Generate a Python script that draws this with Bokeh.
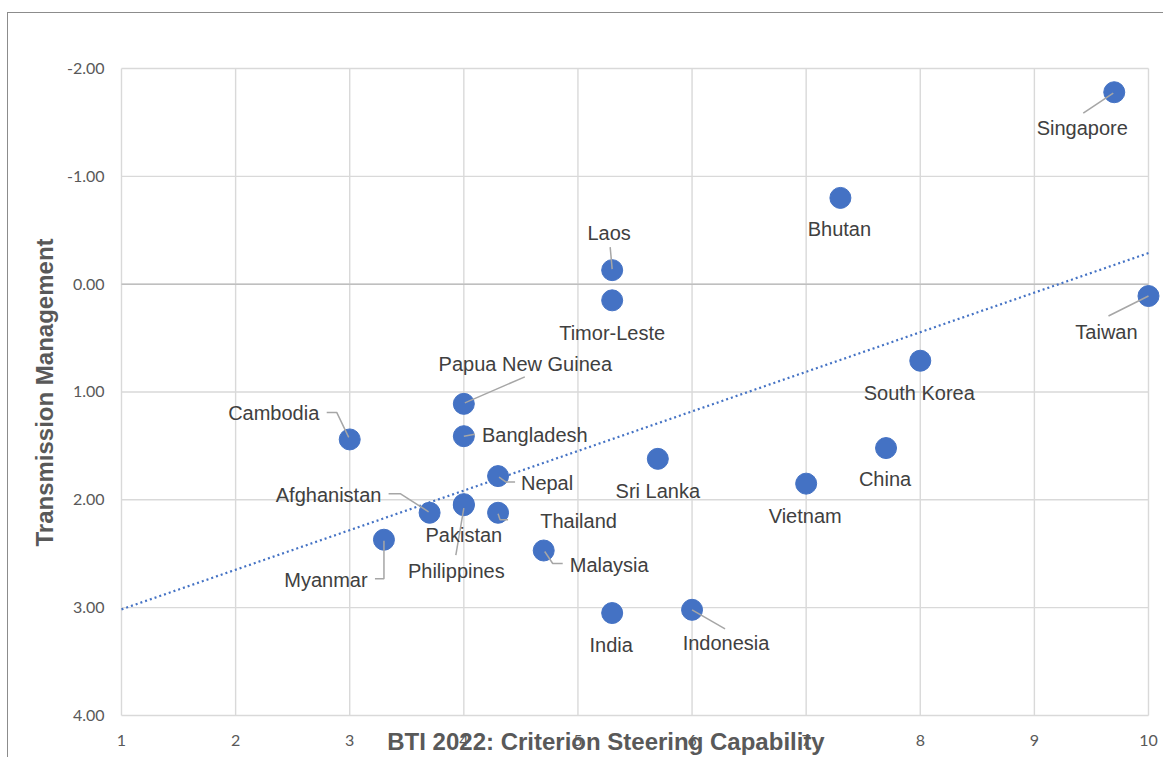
import numpy as np
from bokeh.plotting import figure
from bokeh.models import Range1d, FixedTicker, NumeralTickFormatter, Label
from bokeh.core.properties import value
from bokeh.embed import file_html
from bokeh.resources import INLINE

# ---------------- data ----------------
countries = ["Singapore", "Bhutan", "Laos", "Timor-Leste", "Taiwan", "South Korea",
             "China", "Vietnam", "Sri Lanka", "Papua New Guinea", "Cambodia",
             "Bangladesh", "Nepal", "Afghanistan", "Philippines", "Pakistan",
             "Thailand", "Myanmar", "Malaysia", "India", "Indonesia"]
steering = [9.7, 7.3, 5.3, 5.3, 10.0, 8.0, 7.7, 7.0, 5.7, 4.0, 3.0,
            4.0, 4.3, 3.7, 4.0, 4.0, 4.3, 3.3, 4.7, 5.3, 6.0]
transmission = [-1.78, -0.80, -0.13, 0.15, 0.11, 0.71, 1.52, 1.85, 1.62, 1.11, 1.44,
                1.41, 1.78, 2.12, 2.05, 2.04, 2.12, 2.37, 2.47, 3.05, 3.02]
x_ticks = [1, 2, 3, 4, 5, 6, 7, 8, 9, 10]
x_tick_labels = [str(t) for t in x_ticks]
y_ticks = [-2, -1, 0, 1, 2, 3, 4]

x_title = "BTI 2022: Criterion Steering Capability"
y_title = "Transmission Management"

# ---------------- label placement (screen px offsets from the point) ----------------
label_offsets = {
    "Singapore": (-32, 36), "Bhutan": (-1, 31), "Laos": (-3, -37),
    "Timor-Leste": (0, 33), "Taiwan": (-42, 36), "South Korea": (-1, 32),
    "China": (-1, 31), "Vietnam": (-1, 32), "Sri Lanka": (0, 32),
    "Papua New Guinea": (61.5, -40), "Cambodia": (-76, -26), "Bangladesh": (71, -1),
    "Nepal": (49, 7), "Afghanistan": (-101, -18), "Philippines": (-7.5, 66),
    "Pakistan": (0, 31), "Thailand": (80.5, 8), "Myanmar": (-58, 40),
    "Malaysia": (65.5, 14), "India": (-1, 32), "Indonesia": (34, 33),
}
leader_paths = {
    "Singapore": [(-1, 1), (-31, 21)],
    "Laos": [(-2, -23), (0, -1)],
    "Taiwan": [(0, 0), (-40, 20)],
    "Papua New Guinea": [(1, -1), (61, -27)],
    "Cambodia": [(-23, -27), (-13, -27), (-1, -2)],
    "Bangladesh": [(0, 0), (11, -2)],
    "Nepal": [(1, 1), (8, 6), (17, 6)],
    "Afghanistan": [(-41, -19), (-29, -19), (-1, -1)],
    "Philippines": [(-8, 50), (0, 3)],
    "Thailand": [(0, 1), (2, 7), (10, 7)],
    "Myanmar": [(0, 1), (0, 39), (-9, 39)],
    "Malaysia": [(1, 1), (9, 13), (19, 13)],
    "Indonesia": [(0, 0), (33, 19)],
}

# ---------------- layout ----------------
W, H = 1156, 745          # canvas size
BL, BT = 105, 13          # room for the y axis / top margin
KX, KY = 114.11, 107.83   # pixels per data unit
LEFT_PAD = 8              # pixels between frame left and the first gridline
TOP_PAD = 42              # pixels between frame top and the top gridline
frame_w, frame_h = W - BL, H - BT
x_start = x_ticks[0] - LEFT_PAD / KX
x_end = x_start + frame_w / KX
y_top = y_ticks[0] - TOP_PAD / KY
y_bottom = y_top + frame_h / KY

p = figure(width=W, height=H, output_backend="svg", toolbar_location=None,
           x_range=Range1d(x_start, x_end), y_range=Range1d(y_bottom, y_top),
           x_axis_location=None,
           min_border_left=BL, min_border_right=0, min_border_top=BT, min_border_bottom=0)
p.styles = {"margin-left": "7px", "margin-top": "12px",
            "border-left": "1px solid #8c8c8c", "border-top": "1px solid #8c8c8c"}
p.outline_line_color = None
p.background_fill_color = "white"
p.border_fill_color = "white"
p.xgrid.visible = False
p.ygrid.visible = False

tick_color = "#595959"
p.yaxis.ticker = FixedTicker(ticks=y_ticks)
p.yaxis.formatter = NumeralTickFormatter(format="0.00")
p.yaxis.axis_line_color = None
p.yaxis.major_tick_line_color = None
p.yaxis.minor_tick_line_color = None
p.yaxis.major_label_text_font = "Lato"
p.yaxis.major_label_text_font_size = "16px"
p.yaxis.major_label_text_color = tick_color
p.yaxis.major_label_standoff = 11 - LEFT_PAD
p.yaxis.axis_label = y_title
p.yaxis.axis_label_text_font = "Liberation Sans"
p.yaxis.axis_label_text_font_size = "24px"
p.yaxis.axis_label_text_font_style = "bold"
p.yaxis.axis_label_text_color = tick_color
p.yaxis.axis_label_standoff = 6

# gridlines, bounded to the tick extents (as in the original)
grid_color = "#d9d9d9"
p.segment(x0=x_ticks, x1=x_ticks, y0=[y_ticks[0]] * len(x_ticks), y1=[y_ticks[-1]] * len(x_ticks),
          line_color=grid_color, line_width=1.4)
p.segment(x0=[x_ticks[0]] * len(y_ticks), x1=[x_ticks[-1]] * len(y_ticks), y0=y_ticks, y1=y_ticks,
          line_color=grid_color, line_width=1.4)

# horizontal axis line at zero
p.segment(x0=[x_ticks[0]], x1=[x_ticks[-1]], y0=[0], y1=[0],
          line_color="#bfbfbf", line_width=1.5)

# linear trend line
coef = np.polyfit(steering, transmission, 1)
tx = [x_ticks[0], x_ticks[-1]]
ty = list(np.polyval(coef, tx))
p.line(tx, ty, line_color="#4472C4", line_width=2.2, line_dash="2 3")

# points
p.scatter(steering, transmission, size=21, fill_color="#4472C4",
          line_color="#4472C4", line_width=1)

# leader lines
lxs, lys = [], []
for c, xv, yv in zip(countries, steering, transmission):
    if c in leader_paths:
        lxs.append([xv + dx / KX for dx, dy in leader_paths[c]])
        lys.append([yv + dy / KY for dx, dy in leader_paths[c]])
p.multi_line(lxs, lys, line_color="#a6a6a6", line_width=1.5)

# data labels
lx = [xv + label_offsets[c][0] / KX for c, xv in zip(countries, steering)]
ly = [yv + label_offsets[c][1] / KY for c, yv in zip(countries, transmission)]
p.text(lx, ly, text=countries, text_align="center", text_baseline="middle",
       text_font=value("Liberation Sans"), text_font_size="20px", text_color="#404040")

# x tick labels (under the bottom gridline)
p.text(x_ticks, [y_ticks[-1] + 25 / KY] * len(x_ticks), text=x_tick_labels,
       text_align="center", text_baseline="middle",
       text_font=value("Lato"), text_font_size="16px", text_color=tick_color)

# x axis title (overlapping the tick labels as in the original)
p.add_layout(Label(x=x_ticks[0] + 484.5 / KX, y=y_ticks[-1] + 26 / KY,
                   text=x_title, text_align="center", text_baseline="alphabetic",
                   text_font="Liberation Sans", text_font_size="24px",
                   text_font_style="bold", text_color=tick_color))

open("out.html", "w").write(file_html(p, INLINE))
